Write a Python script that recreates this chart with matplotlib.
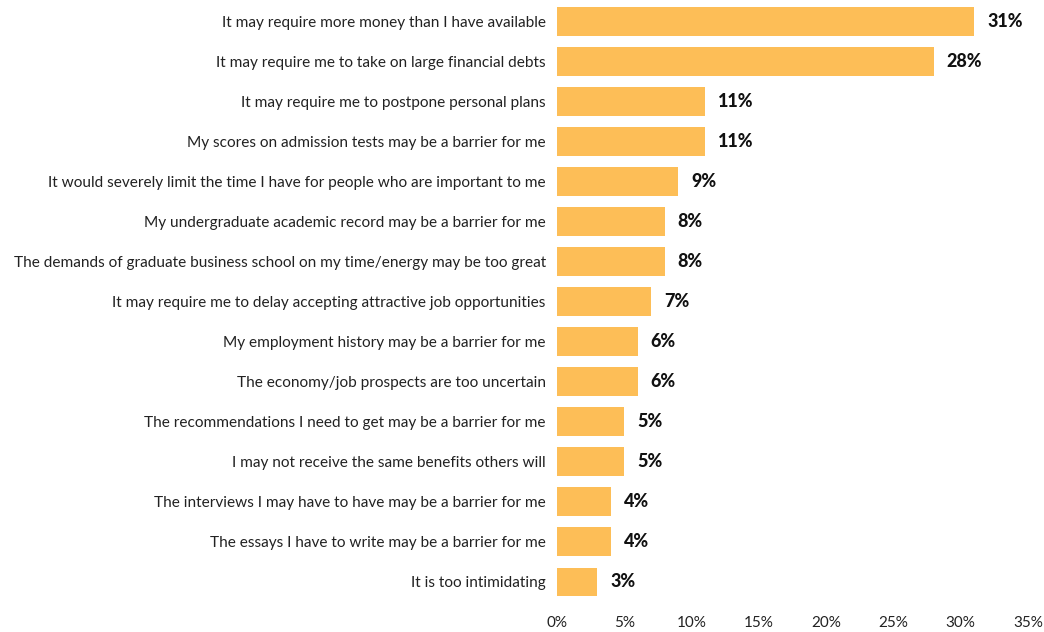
import matplotlib.pyplot as plt

# Barriers to applying to graduate business school (% of respondents)
reasons = [
    "It may require more money than I have available",
    "It may require me to take on large financial debts",
    "It may require me to postpone personal plans",
    "My scores on admission tests may be a barrier for me",
    "It would severely limit the time I have for people who are important to me",
    "My undergraduate academic record may be a barrier for me",
    "The demands of graduate business school on my time/energy may be too great",
    "It may require me to delay accepting attractive job opportunities",
    "My employment history may be a barrier for me",
    "The economy/job prospects are too uncertain",
    "The recommendations I need to get may be a barrier for me",
    "I may not receive the same benefits others will",
    "The interviews I may have to have may be a barrier for me",
    "The essays I have to write may be a barrier for me",
    "It is too intimidating",
]
pct = [31, 28, 11, 11, 9, 8, 8, 7, 6, 6, 5, 5, 4, 4, 3]
xticks = [0, 5, 10, 15, 20, 25, 30, 35]

plt.rcParams["font.family"] = ["Lato", "DejaVu Sans"]

fig = plt.figure(figsize=(10.44, 6.32), dpi=100)
ax = fig.add_axes([0.5335, 0.0475, 0.4512, 0.9505])

ypos = list(range(len(reasons)))
ax.barh(ypos, pct, height=0.72, color="#FDBE57")
for y, v in zip(ypos, pct):
    ax.text(v + 0.95, y, f"{v}%", va="center", ha="left",
            fontsize=13, fontweight="black", color="#111111")

ax.set_xlim(0, 35)
ax.set_ylim(len(reasons) - 0.5, -0.5)
ax.set_yticks(ypos)
ax.set_yticklabels(reasons, fontsize=11.1, color="#222222")
ax.set_xticks(xticks)
ax.set_xticklabels([f"{t}%" for t in xticks], fontsize=11, color="#222222")
ax.tick_params(axis="both", length=0)
ax.tick_params(axis="y", pad=8)
ax.tick_params(axis="x", pad=10)
for s in ax.spines.values():
    s.set_visible(False)

fig.savefig("out.png", dpi=100)
